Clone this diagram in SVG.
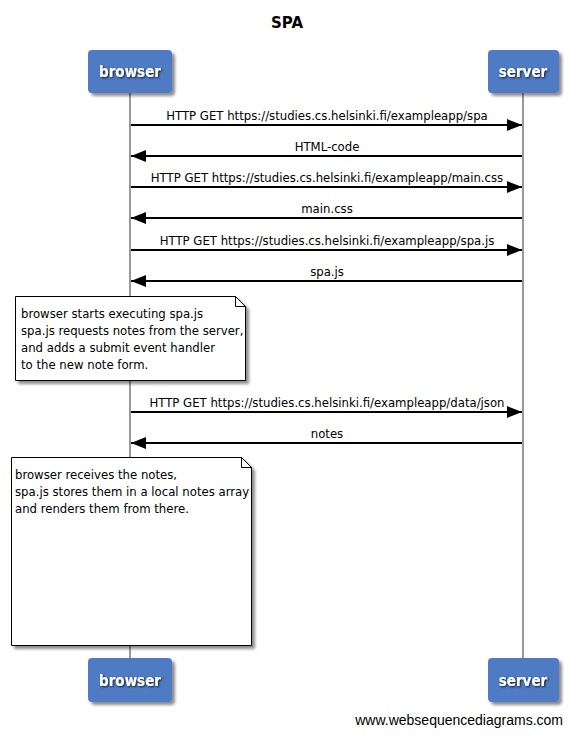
<svg xmlns="http://www.w3.org/2000/svg" width="574" height="736" viewBox="0 0 574 736">
  <defs>
    <filter id="shadow" x="-10%" y="-10%" width="130%" height="130%">
      <feGaussianBlur in="SourceAlpha" stdDeviation="1.5"/>
      <feOffset dx="3" dy="3" result="b"/>
      <feComponentTransfer><feFuncA type="linear" slope="0.45"/></feComponentTransfer>
      <feMerge><feMergeNode/><feMergeNode in="SourceGraphic"/></feMerge>
    </filter>
    <filter id="textshadow" x="-10%" y="-20%" width="130%" height="150%">
      <feGaussianBlur in="SourceAlpha" stdDeviation="0.8"/>
      <feOffset dx="1" dy="1"/>
      <feComponentTransfer><feFuncA type="linear" slope="0.8"/></feComponentTransfer>
      <feMerge><feMergeNode/><feMergeNode in="SourceGraphic"/></feMerge>
    </filter>
    <marker id="head" viewBox="0 0 15 12" refX="15" refY="6" markerWidth="15" markerHeight="12" markerUnits="userSpaceOnUse" orient="auto">
      <path d="M0,0 L15,6 L0,12 Z" fill="#000"/>
    </marker>
  </defs>
  <style>
    text { font-family: "DejaVu Sans Condensed", "Liberation Sans", sans-serif; }
    .title { font-family: "DejaVu Sans", "Liberation Sans", sans-serif; font-size: 15px; font-weight: bold; fill: #000; }
    .actor rect { fill: #4f7ac4; filter: url(#shadow); }
    .actor text { font-family: "DejaVu Sans Condensed", "Liberation Sans", sans-serif; font-size: 15px; font-weight: bold; fill: #fff; text-anchor: middle; filter: url(#textshadow); }
    .life { stroke: #999; stroke-width: 2; fill: none; }
    .msg line { stroke: #000; stroke-width: 2; marker-end: url(#head); }
    .msg text { font-size: 13px; fill: #000; text-anchor: middle; }
    .note path.body { fill: #fff; stroke: #000; stroke-width: 1; filter: url(#shadow); }
    .note path.fold { fill: none; stroke: #000; stroke-width: 1; }
    .note text { font-size: 13px; fill: #000; }
    .footer { font-family: "Liberation Sans", Arial, sans-serif; font-size: 14px; fill: #000; }
  </style>

  <rect width="574" height="736" fill="#fff"/>

  <text class="title" x="287" y="28" text-anchor="middle">SPA</text>

  <!-- lifelines -->
  <g id="lifelines">
    <line class="life" x1="130" y1="93" x2="130" y2="658"/>
    <line class="life" x1="523" y1="93" x2="523" y2="658"/>
  </g>

  <!-- participants, top and bottom -->
  <g id="browser-top" class="actor">
    <rect x="88" y="50" width="84" height="43" rx="4"/>
    <text x="130" y="77">browser</text>
  </g>
  <g id="server-top" class="actor">
    <rect x="488" y="50" width="71" height="43" rx="4"/>
    <text x="523" y="77">server</text>
  </g>
  <g id="browser-bottom" class="actor">
    <rect x="88" y="658" width="84" height="44" rx="4"/>
    <text x="130" y="686">browser</text>
  </g>
  <g id="server-bottom" class="actor">
    <rect x="488" y="658" width="71" height="44" rx="4"/>
    <text x="523" y="686">server</text>
  </g>

  <!-- messages -->
  <g id="connectors" class="msg">
    <line x1="131" y1="125" x2="522" y2="125"/>
    <text x="327" y="120">HTTP GET https://studies.cs.helsinki.fi/exampleapp/spa</text>

    <line x1="522" y1="156" x2="131" y2="156"/>
    <text x="327" y="151">HTML-code</text>

    <line x1="131" y1="187" x2="522" y2="187"/>
    <text x="327" y="182">HTTP GET https://studies.cs.helsinki.fi/exampleapp/main.css</text>

    <line x1="522" y1="218" x2="131" y2="218"/>
    <text x="327" y="213">main.css</text>

    <line x1="131" y1="250" x2="522" y2="250"/>
    <text x="327" y="245">HTTP GET https://studies.cs.helsinki.fi/exampleapp/spa.js</text>

    <line x1="522" y1="281" x2="131" y2="281"/>
    <text x="327" y="276">spa.js</text>

    <line x1="131" y1="412" x2="522" y2="412"/>
    <text x="327" y="407">HTTP GET https://studies.cs.helsinki.fi/exampleapp/data/json</text>

    <line x1="522" y1="443" x2="131" y2="443"/>
    <text x="327" y="438">notes</text>
  </g>

  <!-- notes -->
  <g id="note-1" class="note">
    <path class="body" d="M15.5,296.5 H235.5 L245.5,306.5 V380.5 H15.5 Z"/>
    <path class="fold" d="M235.5,296.5 V306.5 H245.5"/>
    <text x="21" y="318">browser starts executing spa.js</text>
    <text x="21" y="335">spa.js requests notes from the server,</text>
    <text x="21" y="352">and adds a submit event handler</text>
    <text x="21" y="369">to the new note form.</text>
  </g>
  <g id="note-2" class="note">
    <path class="body" d="M11.5,457.5 H241.5 L251.5,467.5 V645.5 H11.5 Z"/>
    <path class="fold" d="M241.5,457.5 V467.5 H251.5"/>
    <text x="15" y="479">browser receives the notes,</text>
    <text x="15" y="496">spa.js stores them in a local notes array</text>
    <text x="15" y="513">and renders them from there.</text>
  </g>

  <text class="footer" x="563" y="725" text-anchor="end">www.websequencediagrams.com</text>
</svg>
